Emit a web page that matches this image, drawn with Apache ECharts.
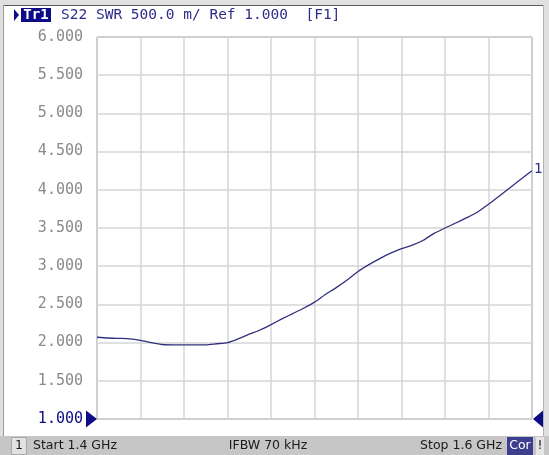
<!DOCTYPE html>
<html><head><meta charset="utf-8">
<script src="https://cdn.jsdelivr.net/npm/echarts@6/dist/echarts.min.js"></script>
<style>html,body{margin:0;padding:0;background:#fff}#c{width:549px;height:455px}</style>
</head><body><div id="c"></div><script>
// Frequency (MHz) and SWR
const freqMHz = [1400,1405,1410,1415,1420,1425,1430,1435,1440,1445,1450,1455,1460,1465,1470,1475,1480,1485,1490,1495,1500,1505,1510,1515,1520,1525,1530,1535,1540,1545,1550,1555,1560,1565,1570,1575,1580,1585,1590,1595,1600];
const swr = [2.07,2.06,2.055,2.05,2.03,2.0,1.975,1.97,1.97,1.97,1.97,1.985,2.0,2.05,2.11,2.165,2.235,2.31,2.38,2.45,2.53,2.63,2.72,2.82,2.93,3.02,3.10,3.17,3.23,3.275,3.34,3.43,3.50,3.565,3.635,3.71,3.81,3.92,4.03,4.14,4.25];
const yTickValues = [1.0,1.5,2.0,2.5,3.0,3.5,4.0,4.5,5.0,5.5,6.0];
const refLevel = 1.0;
const headerText = 'S22 SWR 500.0 m/ Ref 1.000  [F1]';
const statusStart = 'Start 1.4 GHz';
const statusIfbw = 'IFBW 70 kHz';
const statusStop = 'Stop 1.6 GHz';

const MONO = '"DejaVu Sans Mono", monospace';
const SANS = '"DejaVu Sans", sans-serif';
const NAVY = '#0c0c86';
const TEXTBLUE = '#2e2e88';

const chart = echarts.init(document.getElementById('c'), null, {renderer: 'canvas'});
const data = freqMHz.map((f, i) => [f, swr[i]]);

const option = {
  backgroundColor: '#ffffff',
  animation: false,
  grid: {left: 97, top: 37, right: 17, bottom: 36, show: true, borderColor: '#7a7a7a', borderWidth: 1, containLabel: false},
  xAxis: {
    type: 'value', min: freqMHz[0], max: freqMHz[freqMHz.length - 1], interval: 20,
    axisLine: {show: false}, axisTick: {show: false}, axisLabel: {show: false},
    splitLine: {show: true, lineStyle: {color: '#d6d6d6', width: 1.5}}
  },
  yAxis: {
    type: 'value', min: yTickValues[0], max: yTickValues[yTickValues.length - 1], interval: 0.5,
    axisLine: {show: false}, axisTick: {show: false},
    axisLabel: {
      margin: 14, fontFamily: MONO, fontSize: 15,
      formatter: v => v.toFixed(3),
      color: v => (Math.abs(v - refLevel) < 1e-9 ? NAVY : '#8a8a8a')
    },
    splitLine: {show: true, lineStyle: {color: '#d6d6d6', width: 1.5}}
  },
  series: [{
    type: 'line', data: data, showSymbol: false, smooth: 0.2,
    lineStyle: {color: '#30307e', width: 1.3},
    endLabel: {show: true, formatter: '1', color: TEXTBLUE, fontFamily: MONO, fontSize: 14, distance: 2, offset: [0, -1]}
  }]
};
chart.setOption(option);

const pL = chart.convertToPixel({gridIndex: 0}, [freqMHz[0], refLevel]);
const pR = chart.convertToPixel({gridIndex: 0}, [freqMHz[freqMHz.length - 1], refLevel]);

const g = [
  // frame
  {type: 'rect', shape: {x: 0, y: 0, width: 549, height: 5}, style: {fill: '#e0e0e0'}, silent: true},
  {type: 'rect', shape: {x: 0, y: 0, width: 3, height: 455}, style: {fill: '#e0e0e0'}, silent: true},
  {type: 'rect', shape: {x: 544, y: 0, width: 5, height: 455}, style: {fill: '#e0e0e0'}, silent: true},
  {type: 'line', shape: {x1: 3, y1: 5.5, x2: 544, y2: 5.5}, style: {stroke: '#5a5a5a', lineWidth: 1}, silent: true},
  {type: 'line', shape: {x1: 3.5, y1: 5, x2: 3.5, y2: 436}, style: {stroke: '#9a9a9a', lineWidth: 1}, silent: true},
  {type: 'line', shape: {x1: 543.5, y1: 5, x2: 543.5, y2: 436}, style: {stroke: '#b4b4b4', lineWidth: 1}, silent: true},
  // header
  {type: 'polygon', shape: {points: [[14, 9], [19, 15], [14, 21]]}, style: {fill: NAVY}, silent: true},
  {type: 'rect', shape: {x: 21, y: 8, width: 30, height: 14}, style: {fill: NAVY}, silent: true},
  {type: 'text', x: 36, y: 15, style: {text: 'Tr1', fill: '#ffffff', font: 'bold 14px ' + MONO, align: 'center', verticalAlign: 'middle'}, silent: true},
  {type: 'text', x: 61, y: 15, style: {text: headerText, fill: TEXTBLUE, font: '14.5px ' + MONO, align: 'left', verticalAlign: 'middle'}, silent: true},
  // reference markers
  {type: 'polygon', shape: {points: [[pL[0] - 11, pL[1] - 8.5], [pL[0], pL[1]], [pL[0] - 11, pL[1] + 8.5]]}, style: {fill: NAVY}, silent: true},
  {type: 'polygon', shape: {points: [[pR[0] + 11, pR[1] - 8.5], [pR[0] + 1, pR[1]], [pR[0] + 11, pR[1] + 8.5]]}, style: {fill: NAVY}, silent: true},
  // status bar
  {type: 'rect', shape: {x: 0, y: 436, width: 549, height: 19}, style: {fill: '#c6c6c6'}, silent: true},
  {type: 'rect', shape: {x: 11.5, y: 437.5, width: 15, height: 17}, style: {fill: '#e2e2e2', stroke: '#a8a8a8', lineWidth: 1}, silent: true},
  {type: 'text', x: 19, y: 446, style: {text: '1', fill: '#1a1a1a', font: '12.5px ' + SANS, align: 'center', verticalAlign: 'middle'}, silent: true},
  {type: 'text', x: 33, y: 446, style: {text: statusStart, fill: '#1a1a1a', font: '12.5px ' + SANS, align: 'left', verticalAlign: 'middle'}, silent: true},
  {type: 'text', x: 268, y: 446, style: {text: statusIfbw, fill: '#1a1a1a', font: '12.5px ' + SANS, align: 'center', verticalAlign: 'middle'}, silent: true},
  {type: 'text', x: 502, y: 446, style: {text: statusStop, fill: '#1a1a1a', font: '12.5px ' + SANS, align: 'right', verticalAlign: 'middle'}, silent: true},
  {type: 'rect', shape: {x: 507, y: 437, width: 26, height: 18}, style: {fill: '#3e3e8e'}, silent: true},
  {type: 'text', x: 520, y: 446, style: {text: 'Cor', fill: '#ffffff', font: '12.5px ' + SANS, align: 'center', verticalAlign: 'middle'}, silent: true},
  {type: 'rect', shape: {x: 536, y: 437, width: 8, height: 18}, style: {fill: '#e6e6e6'}, silent: true},
  {type: 'text', x: 540, y: 446, style: {text: '!', fill: '#1a1a1a', font: '12.5px ' + SANS, align: 'center', verticalAlign: 'middle'}, silent: true}
];
chart.setOption({graphic: {elements: g}});
</script></body></html>
